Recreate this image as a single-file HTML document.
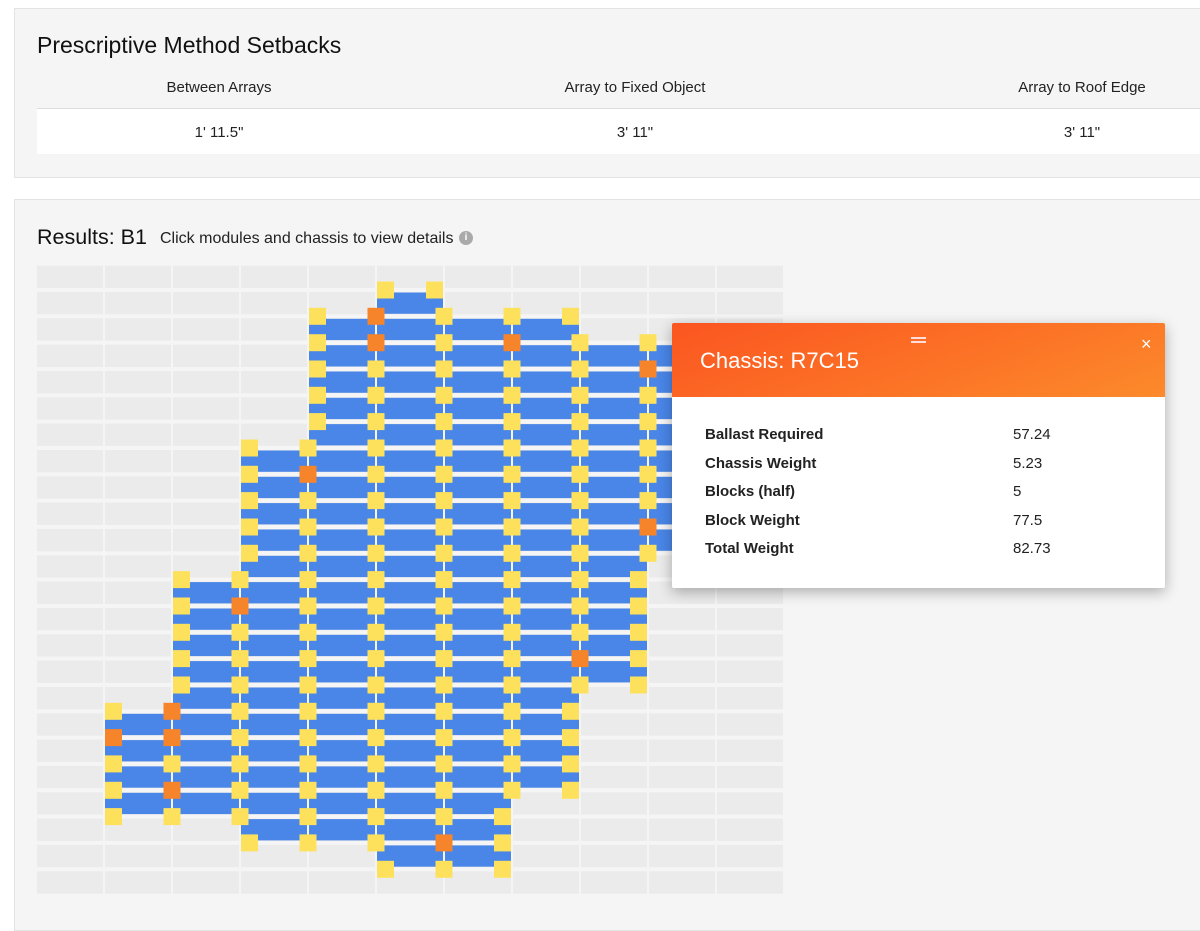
<!DOCTYPE html>
<html><head><meta charset="utf-8"><style>
body{margin:0;width:1200px;height:912px;background:#fff;font-family:"Liberation Sans",sans-serif;position:relative;overflow:hidden;color:#222}
.panel{position:absolute;left:14px;right:-10px;background:#f5f5f5;border:1px solid #e3e3e3}
.t{position:absolute;white-space:nowrap}
</style></head><body>
<div class="panel" style="top:8px;height:168px"></div>
<div class="t" style="left:37px;top:32px;font-size:23px;color:#111">Prescriptive Method Setbacks</div>
<div class="t" style="left:219px;top:79px;font-size:15px;transform:translateX(-50%)">Between Arrays</div>
<div class="t" style="left:635px;top:79px;font-size:15px;transform:translateX(-50%)">Array to Fixed Object</div>
<div class="t" style="left:1082px;top:79px;font-size:15px;transform:translateX(-50%)">Array to Roof Edge</div>
<div style="position:absolute;left:37px;top:108px;width:1170px;height:45px;background:#fff;border-top:1px solid #ddd"></div>
<div class="t" style="left:219px;top:124px;font-size:15px;transform:translateX(-50%)">1' 11.5"</div>
<div class="t" style="left:635px;top:124px;font-size:15px;transform:translateX(-50%)">3' 11"</div>
<div class="t" style="left:1082px;top:124px;font-size:15px;transform:translateX(-50%)">3' 11"</div>
<div class="panel" style="top:199px;height:730px"></div>
<div class="t" style="left:37px;top:225px;font-size:21.5px;color:#111">Results: B1</div>
<div class="t" style="left:160px;top:230px;font-size:16px">Click modules and chassis to view details</div>
<div style="position:absolute;left:459px;top:231px;width:14px;height:14px;border-radius:50%;background:#aaa;color:#fff;font-size:10px;font-weight:bold;text-align:center;line-height:14px">i</div>
<svg id="g" style="position:absolute;left:0;top:0" width="1200" height="912"></svg>
<div style="position:absolute;left:672px;top:323px;width:493px;height:265px;background:#fff;box-shadow:0 4px 14px rgba(0,0,0,.3);border-radius:2px;overflow:hidden">
<div style="height:74px;background:linear-gradient(160deg,#fb5520,#fc8a2b);position:relative">
<div class="t" style="left:28px;top:25px;font-size:22px;color:#fff">Chassis: R7C15</div>
<div style="position:absolute;left:239px;top:14px;width:15px;height:2px;background:#fdd;box-shadow:0 4px 0 #fdd"></div>
<div class="t" style="left:469px;top:11px;font-size:18px;color:#fff">×</div>
</div>
<div style="position:absolute;left:33px;top:98px;font-size:15px;font-weight:bold;line-height:28.5px">Ballast Required<br>Chassis Weight<br>Blocks (half)<br>Block Weight<br>Total Weight</div>
<div style="position:absolute;left:341px;top:98px;font-size:15px;line-height:28.5px">57.24<br>5.23<br>5<br>77.5<br>82.73</div>
</div>
<script>
var s='',Y=function(j){return 290+26.33*j};
for(var k=0;k<24;k++)for(var c=0;c<11;c++){s+='<rect x="'+(37+68*c)+'" y="'+(Y(k-1)+2).toFixed(1)+'" width="66" height="22.3" fill="#ebebeb"/>';}
var R={1:[16,20],2:[11,20],3:[6,21],4:[1,21],5:[0,22],6:[1,22],7:[1,19],8:[2,15],9:[2,10]};
var O={"L5_1":1,"L5_2":1,"L4_7":1,"L3_12":1,"L1_17":1,"L2_16":1,"L2_17":1,"L2_19":1,"L6_21":1,"L7_2":1,"L8_14":1,"L9_3":1,"L9_9":1};
function has(c,j){return R[c]&&j>=R[c][0]&&j<=R[c][1];}
for(var c=1;c<=9;c++){var X=37+68*c;for(var j=R[c][0];j<R[c][1];j++){s+='<rect x="'+X+'" y="'+(Y(j)+2.5).toFixed(1)+'" width="66" height="21.3" fill="#4a86e8"/>';}}
var q='';
for(var c=1;c<=9;c++){var X=37+68*c;for(var j=R[c][0];j<=R[c][1];j++){
 var lx=has(c-1,j)?X-1-8.5:X;var col=O["L"+c+"_"+j]?"#f5842a":"#fde15c";
 q+='<rect x="'+lx+'" y="'+(Y(j)-8.5).toFixed(1)+'" width="17" height="17" fill="'+col+'"/>';
 if(!has(c+1,j))q+='<rect x="'+(X+66-17)+'" y="'+(Y(j)-8.5).toFixed(1)+'" width="17" height="17" fill="#fde15c"/>';
}}
document.getElementById('g').innerHTML=s+q;
</script>
</body></html>
